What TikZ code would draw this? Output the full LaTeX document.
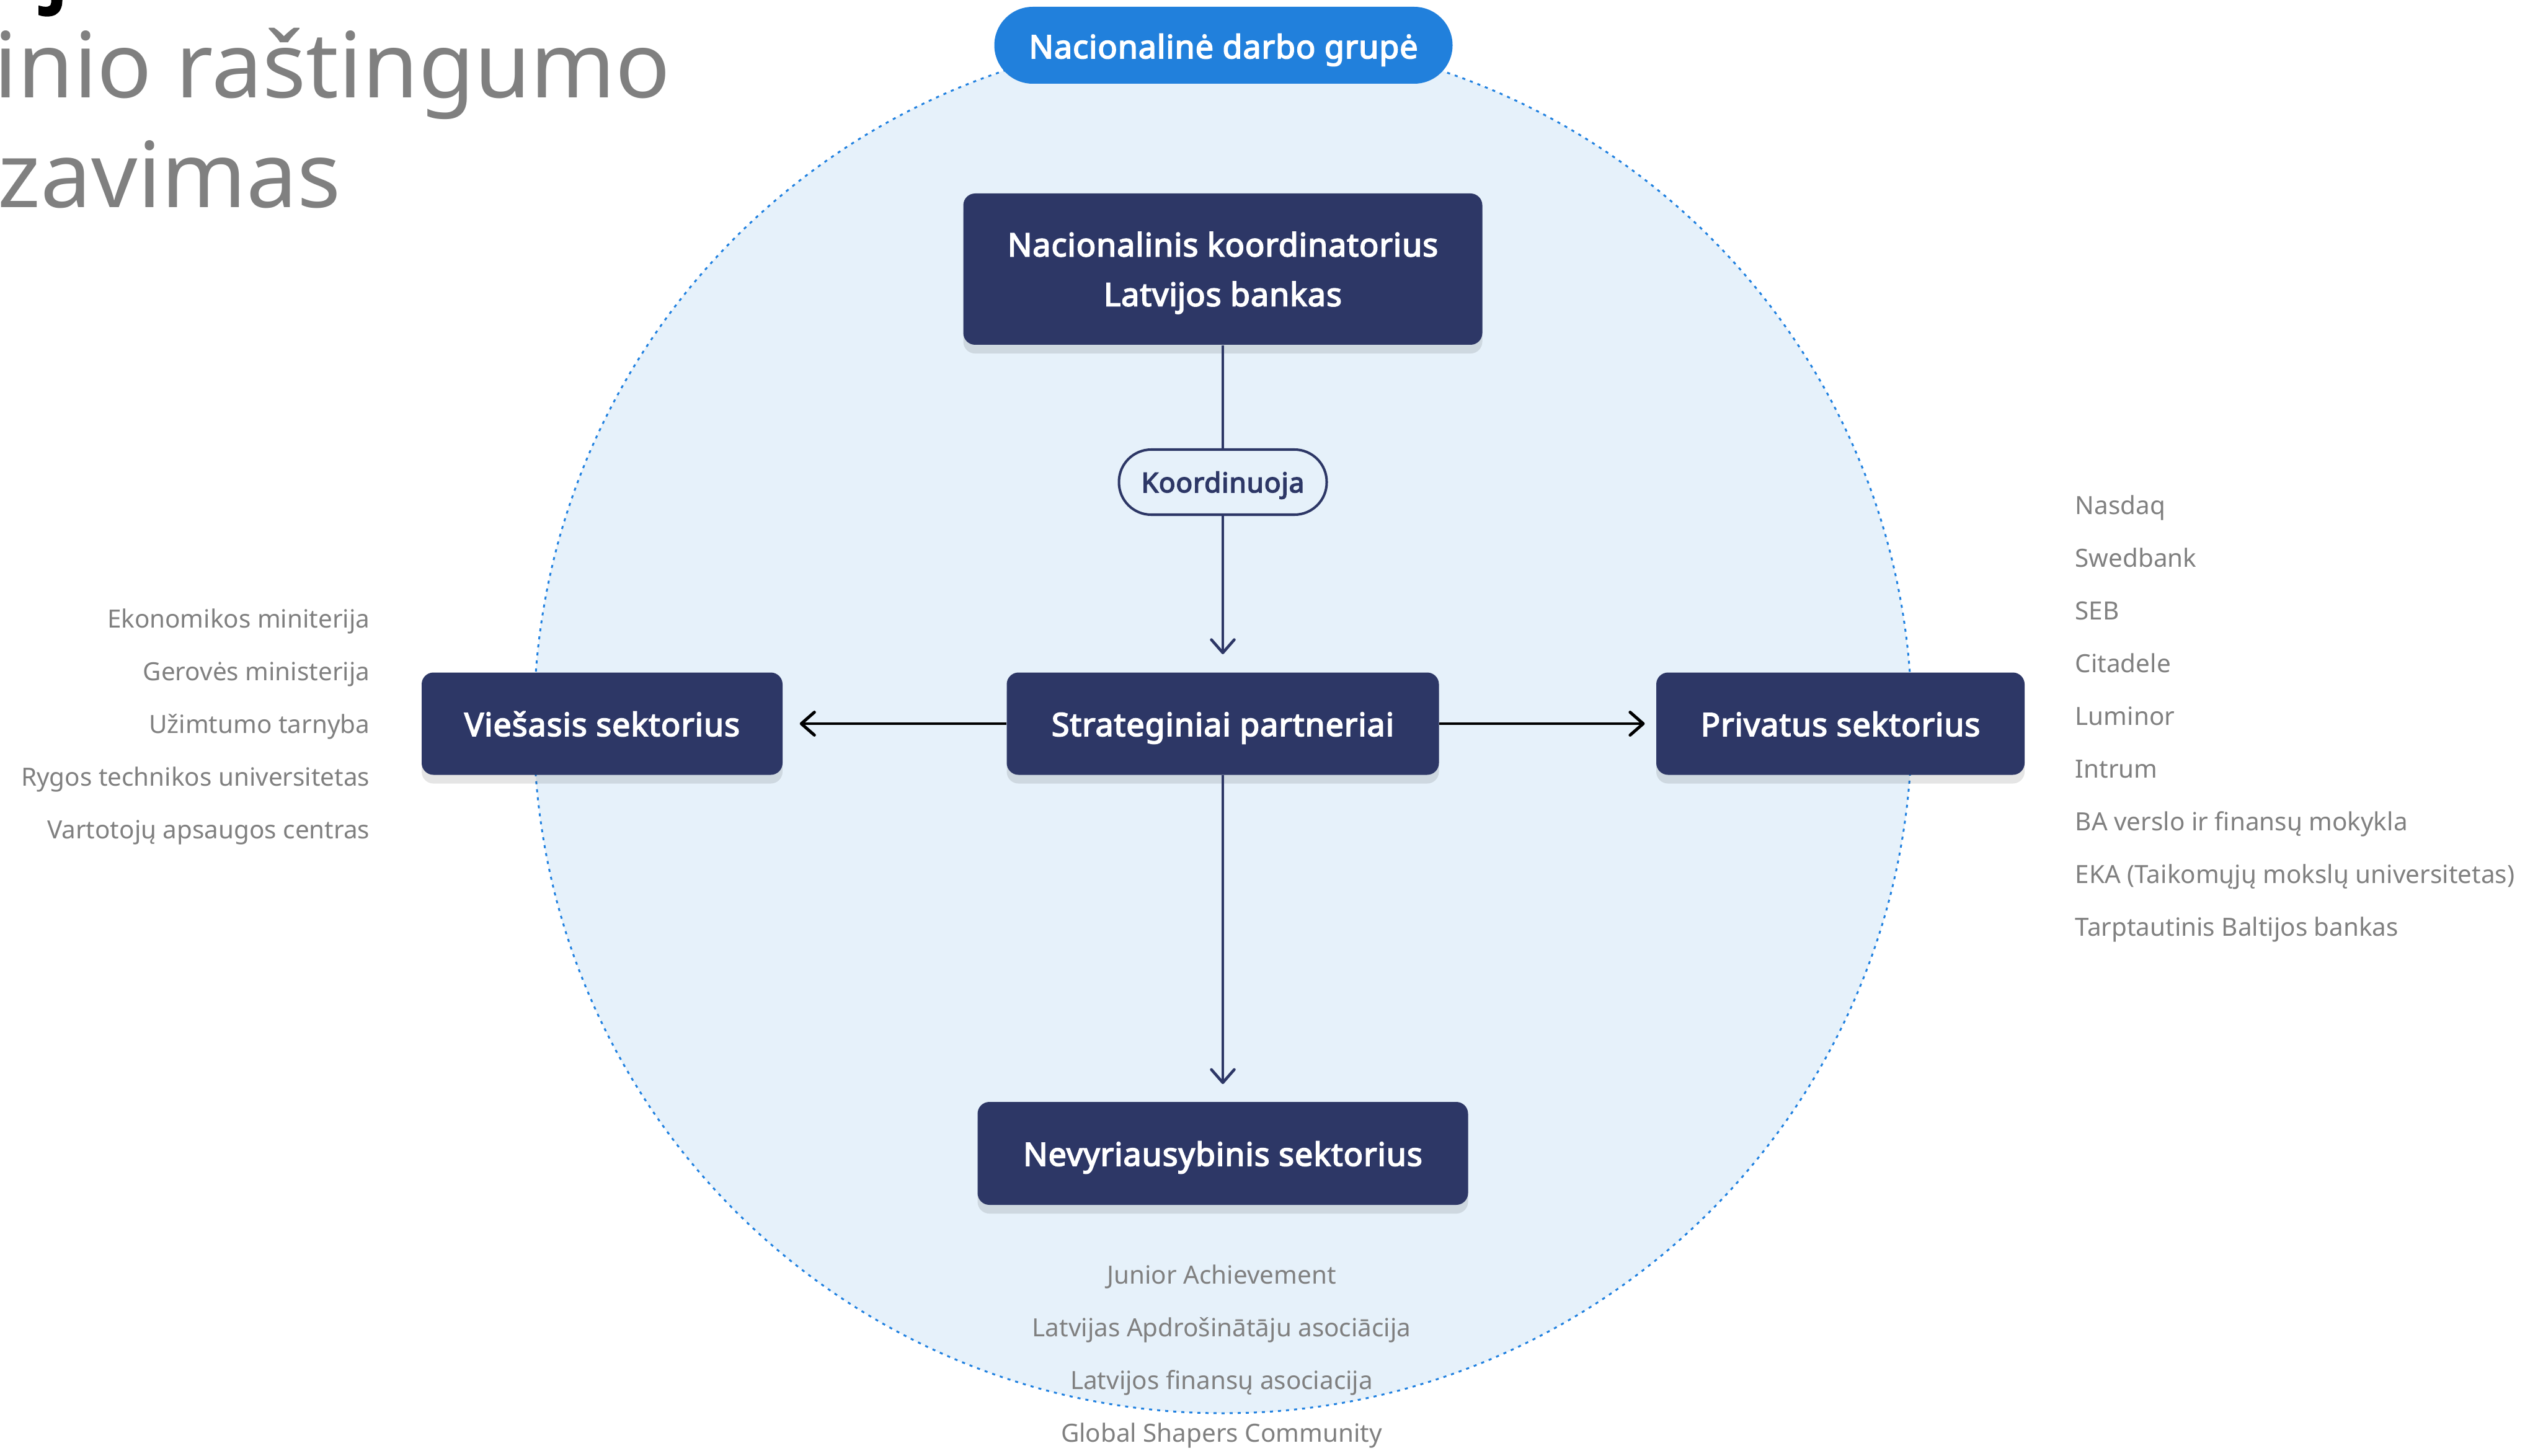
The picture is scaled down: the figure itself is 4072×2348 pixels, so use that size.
\documentclass[tikz,border=0pt]{standalone}
\usepackage{fontspec}
\setmainfont{Noto Sans}[BoldFont={Noto Sans}, BoldFeatures={FakeBold=3.4, LetterSpace=1.8}]
\usetikzlibrary{arrows.meta,shadows}
\definecolor{navy}{HTML}{2D3766}
\definecolor{pillblue}{HTML}{2180DC}
\definecolor{circfill}{HTML}{E6F1FA}
\definecolor{circline}{HTML}{1F80E0}
\definecolor{txtgray}{HTML}{808080}
\begin{document}
\begin{tikzpicture}[x=0.1mm,y=-0.1mm,
  box/.style={fill=navy, rounded corners=1.9mm, text=white,
    font=\fontsize{14.8}{22.8}\selectfont\bfseries, align=center, inner sep=0pt,
    drop shadow={shadow xshift=0pt, shadow yshift=-4pt, opacity=0.1, fill=black}},
  onebox/.style={box, text height=11.4pt, text depth=0pt},
  item/.style={text=txtgray, font=\fontsize{11.5}{14}\selectfont, inner sep=0pt},
  titletext/.style={text=txtgray, font=\fontsize{41.7}{50}\selectfont, inner sep=0pt, anchor=base west},
  navyarrow/.style={draw=navy, line width=1.3pt, -{Straight Barb[length=6pt,width=10.5pt,round]}},
  blackarrow/.style={draw=black, line width=1.4pt, -{Straight Barb[length=6pt,width=10.5pt,round]}},
  navyline/.style={draw=navy, line width=1.3pt}
]
\useasboundingbox (0,0) rectangle (4072,2348);
\fill[white] (0,0) rectangle (4072,2348);

% big circle
\fill[circfill] (1972,1168) circle[radius=1111];
\draw[circline, line width=0.85pt, dash pattern=on 1.4pt off 2.3pt] (1972,1168) circle[radius=1111];

% title fragments
\node[anchor=base west, inner sep=0pt, font=\fontsize{41.7}{50}\selectfont\bfseries] (t0) at (72,-11) {j};
\node[titletext] (t1) at (-10,158) {inio raštingumo};
\node[titletext] (t2) at (-4,335) {zavimas};

% nodes
\node[fill=pillblue, rounded corners=6.2mm, minimum width=73.9mm, minimum height=12.4mm, inner sep=0pt,
  text height=12pt, text depth=0pt,
  text=white, font=\fontsize{14.8}{18}\selectfont\bfseries] (ndg) at (1973,73) {Nacionalinė darbo grupė};
\node[box, minimum width=83.7mm, minimum height=24.4mm] (nk) at (1972,434) {Nacionalinis koordinatorius\\Latvi\smash{j}os bankas};
\node[draw=navy, line width=1.15pt, fill=circfill, rounded corners=5.2mm, minimum width=33.5mm, minimum height=10.5mm,
  inner sep=0pt, text height=9.4pt, text depth=0pt,
  text=navy, font=\fontsize{12.6}{15}\selectfont\bfseries] (koord) at (1972,777.5) {Koordinuoja};
\node[onebox, minimum width=69.7mm, minimum height=16.5mm] (strat) at (1972,1167) {Strateginiai partneriai};
\node[onebox, minimum width=58.2mm, minimum height=16.5mm] (vies) at (971,1167) {Viešasis sektorius};
\node[onebox, minimum width=59.4mm, minimum height=16.5mm] (priv) at (2968,1167) {Privatus sektorius};
\node[onebox, minimum width=79.1mm, minimum height=16.6mm] (nevy) at (1972,1860) {Nevyriausybinis sektorius};

% connectors
\draw[navyline] (nk) -- (koord);
\draw[navyarrow, shorten >=8.2pt] (koord) -- (strat);
\draw[navyarrow, shorten >=8pt] (strat) -- (nevy);
\draw[blackarrow, shorten >=7.7pt] (strat) -- (vies);
\draw[blackarrow, shorten >=5.1pt] (strat) -- (priv);

% left list
\node[item, anchor=base east] (l1) at (597,1012) {Ekonomikos miniterija};
\node[item, anchor=base east] (l2) at (597,1097) {Gerovės ministerija};
\node[item, anchor=base east] (l3) at (597,1182) {Užimtumo tarnyba};
\node[item, anchor=base east] (l4) at (597,1267) {Rygos technikos universitetas};
\node[item, anchor=base east] (l5) at (597,1352) {Vartotojų apsaugos centras};

% right list
\node[item, anchor=base west] (r1) at (3346,829) {Nasdaq};
\node[item, anchor=base west] (r2) at (3346,914) {Swedbank};
\node[item, anchor=base west] (r3) at (3346,999) {SEB};
\node[item, anchor=base west] (r4) at (3346,1084) {Citadele};
\node[item, anchor=base west] (r5) at (3346,1169) {Luminor};
\node[item, anchor=base west] (r6) at (3346,1254) {Intrum};
\node[item, anchor=base west] (r7) at (3346,1339) {BA verslo ir finansų mokykla};
\node[item, anchor=base west] (r8) at (3346,1424) {EKA (Taikomųjų mokslų universitetas)};
\node[item, anchor=base west] (r9) at (3346,1509) {Tarptautinis Baltijos bankas};

% bottom list
\node[item, anchor=base] (b1) at (1970,2070) {Junior Achievement};
\node[item, anchor=base] (b2) at (1970,2155) {Latvijas Apdrošinātāju asociācija};
\node[item, anchor=base] (b3) at (1970,2240) {Latvijos finansų asociacija};
\node[item, anchor=base] (b4) at (1970,2325) {Global Shapers Community};
\end{tikzpicture}
\end{document}
